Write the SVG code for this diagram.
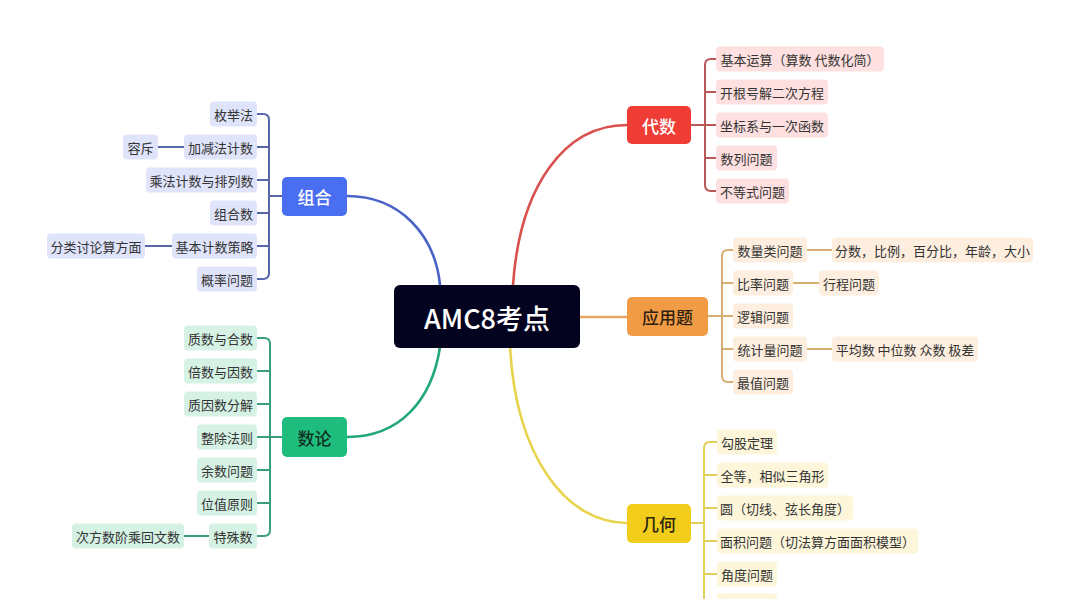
<svg xmlns="http://www.w3.org/2000/svg" width="1080" height="599" viewBox="0 0 1080 599">
<style>
text{font-family:"Noto Sans CJK SC","Noto Sans",sans-serif;}
.c{font-size:13px;fill:#333;text-anchor:middle;dominant-baseline:central;}
.m{font-size:17px;text-anchor:middle;dominant-baseline:central;font-weight:500;}
.ln{fill:none;stroke-width:2;stroke-linecap:round;}
.main{fill:none;stroke-width:2.6;stroke-linecap:round;}
.bz{fill:#dfe4fb}.bd{fill:#fde0df}.by{fill:#fdeedf}.bj{fill:#fdf6da}.bs{fill:#d6f2e5}
.lz{stroke:#5866a8}.ld{stroke:#b85858}.ly{stroke:#d9ae74}.lj{stroke:#e2cf5a}.ls{stroke:#3a9e78}
</style>
<rect width="1080" height="599" fill="#ffffff"/>
<g id="connectors">
<path class="main" stroke="#4a63c6" d="M347,196 C400,196 435,235 440,285"/>
<path class="main" stroke="#d9504c" d="M513,285 C520,185 565,125 627,125"/>
<path class="main" stroke="#e6a366" d="M579,317 H627"/>
<path class="main" stroke="#e8d44c" d="M510,347 C516,455 565,523 627,523"/>
<path class="main" stroke="#23a878" d="M440,347 C432,400 400,437 347,437"/>
<!-- 组合 -->
<path class="ln lz" d="M257,114 H263 Q269,114 269,120 V273 Q269,279 263,279 H257"/>
<path class="ln lz" d="M257,147 H269 M257,180 H269 M257,213 H269 M257,246 H269 M269,196 H282 M158,147 H184 M145,246 H172"/>
<!-- 代数 -->
<path class="ln ld" d="M716,59 H711 Q705,59 705,65 V185 Q705,191 711,191 H716"/>
<path class="ln ld" d="M705,92 H716 M705,125 H716 M705,158 H716 M691,125 H705"/>
<!-- 应用题 -->
<path class="ln ly" d="M733,250 H728 Q722,250 722,256 V376 Q722,382 728,382 H733"/>
<path class="ln ly" d="M722,283 H733 M722,316 H733 M722,349 H733 M708,316 H722 M807,250 H832 M792,283 H819 M807,349 H832"/>
<!-- 几何 -->
<path class="ln lj" d="M717,442 H710 Q704,442 704,448 V605"/>
<path class="ln lj" d="M704,475 H717 M704,508 H717 M704,541 H717 M704,574 H717 M704,603 H717 M691,523 H704"/>
<!-- 数论 -->
<path class="ln ls" d="M257,338 H264 Q270,338 270,344 V530 Q270,536 264,536 H257"/>
<path class="ln ls" d="M257,371 H270 M257,404 H270 M257,437 H282 M257,470 H270 M257,503 H270 M184,536 H209"/>
</g>
<g id="center">
<rect x="394" y="285" width="186" height="63" rx="6" fill="#03031f"/>
<text x="487" y="317" font-size="27" fill="#ffffff" text-anchor="middle" dominant-baseline="central" font-weight="500">AMC8考点</text>
</g>
<g id="zuhe">
<rect x="282" y="177" width="65" height="39" rx="5" fill="#4a6ef0"/>
<text class="m" x="314.5" y="196.5" fill="#ffffff">组合</text>
<g id="zuhe-children">
<rect class="bz" x="210" y="101.5" width="47" height="25" rx="4"/><text class="c" x="233.5" y="114">枚举法</text>
<rect class="bz" x="184" y="134.5" width="73" height="25" rx="4"/><text class="c" x="220.5" y="147">加减法计数</text>
<rect class="bz" x="123" y="134.5" width="35" height="25" rx="4"/><text class="c" x="140.5" y="147">容斥</text>
<rect class="bz" x="146" y="167.5" width="111" height="25" rx="4"/><text class="c" x="201.5" y="180">乘法计数与排列数</text>
<rect class="bz" x="210" y="200.5" width="47" height="25" rx="4"/><text class="c" x="233.5" y="213">组合数</text>
<rect class="bz" x="172" y="233.5" width="85" height="25" rx="4"/><text class="c" x="214.5" y="246">基本计数策略</text>
<rect class="bz" x="47" y="233.5" width="98" height="25" rx="4"/><text class="c" x="96" y="246">分类讨论算方面</text>
<rect class="bz" x="197" y="266.5" width="60" height="25" rx="4"/><text class="c" x="227" y="279">概率问题</text>
</g>
</g>
<g id="daishu">
<rect x="627" y="106" width="64" height="38" rx="5" fill="#ef3d36"/>
<text class="m" x="659" y="125" fill="#ffffff">代数</text>
<g id="daishu-children">
<rect class="bd" x="716" y="46.5" width="168" height="25" rx="4"/><text class="c" x="800" y="59">基本运算（算数 代数化简）</text>
<rect class="bd" x="716" y="79.5" width="112" height="25" rx="4"/><text class="c" x="772" y="92">开根号解二次方程</text>
<rect class="bd" x="716" y="112.5" width="112" height="25" rx="4"/><text class="c" x="772" y="125">坐标系与一次函数</text>
<rect class="bd" x="716" y="145.5" width="61" height="25" rx="4"/><text class="c" x="746.5" y="158">数列问题</text>
<rect class="bd" x="716" y="178.5" width="73" height="25" rx="4"/><text class="c" x="752.5" y="191">不等式问题</text>
</g>
</g>
<g id="yingyong">
<rect x="627" y="297" width="81" height="39" rx="5" fill="#f19c45"/>
<text class="m" x="667.5" y="316.5" fill="#2e2010">应用题</text>
<g id="yingyong-children">
<rect class="by" x="733" y="237.5" width="74" height="25" rx="4"/><text class="c" x="770" y="250">数量类问题</text>
<rect class="by" x="832" y="237.5" width="201" height="25" rx="4"/><text class="c" x="932.5" y="250">分数，比例，百分比，年龄，大小</text>
<rect class="by" x="733" y="270.5" width="60" height="25" rx="4"/><text class="c" x="763" y="283">比率问题</text>
<rect class="by" x="819" y="270.5" width="60" height="25" rx="4"/><text class="c" x="849" y="283">行程问题</text>
<rect class="by" x="733" y="303.5" width="60" height="25" rx="4"/><text class="c" x="763" y="316">逻辑问题</text>
<rect class="by" x="733" y="336.5" width="74" height="25" rx="4"/><text class="c" x="770" y="349">统计量问题</text>
<rect class="by" x="832" y="336.5" width="146" height="25" rx="4"/><text class="c" x="905" y="349">平均数 中位数 众数 极差</text>
<rect class="by" x="733" y="369.5" width="60" height="25" rx="4"/><text class="c" x="763" y="382">最值问题</text>
</g>
</g>
<g id="jihe">
<rect x="627" y="504" width="64" height="39" rx="5" fill="#f2cd1c"/>
<text class="m" x="659" y="523.5" fill="#2a2410">几何</text>
<g id="jihe-children">
<rect class="bj" x="717" y="429.5" width="60" height="25" rx="4"/><text class="c" x="747" y="442">勾股定理</text>
<rect class="bj" x="717" y="462.5" width="111" height="25" rx="4"/><text class="c" x="772.5" y="475">全等，相似三角形</text>
<rect class="bj" x="717" y="495.5" width="136" height="25" rx="4"/><text class="c" x="785" y="508">圆（切线、弦长角度）</text>
<rect class="bj" x="717" y="528.5" width="201" height="25" rx="4"/><text class="c" x="817.5" y="541">面积问题（切法算方面面积模型）</text>
<rect class="bj" x="717" y="561.5" width="60" height="25" rx="4"/><text class="c" x="747" y="574">角度问题</text>
<rect class="bj" x="717" y="593.5" width="60" height="25" rx="4"/>
</g>
</g>
<g id="shulun">
<rect x="282" y="417" width="65" height="40" rx="5" fill="#1fbd7d"/>
<text class="m" x="314.5" y="437" fill="#123224">数论</text>
<g id="shulun-children">
<rect class="bs" x="184" y="325.5" width="73" height="25" rx="4"/><text class="c" x="220.5" y="338">质数与合数</text>
<rect class="bs" x="184" y="358.5" width="73" height="25" rx="4"/><text class="c" x="220.5" y="371">倍数与因数</text>
<rect class="bs" x="184" y="391.5" width="73" height="25" rx="4"/><text class="c" x="220.5" y="404">质因数分解</text>
<rect class="bs" x="197" y="424.5" width="60" height="25" rx="4"/><text class="c" x="227" y="437">整除法则</text>
<rect class="bs" x="197" y="457.5" width="60" height="25" rx="4"/><text class="c" x="227" y="470">余数问题</text>
<rect class="bs" x="197" y="490.5" width="60" height="25" rx="4"/><text class="c" x="227" y="503">位值原则</text>
<rect class="bs" x="209" y="523.5" width="48" height="25" rx="4"/><text class="c" x="233" y="536">特殊数</text>
<rect class="bs" x="72" y="523.5" width="112" height="25" rx="4"/><text class="c" x="128" y="536">次方数阶乘回文数</text>
</g>
</g>
</svg>
